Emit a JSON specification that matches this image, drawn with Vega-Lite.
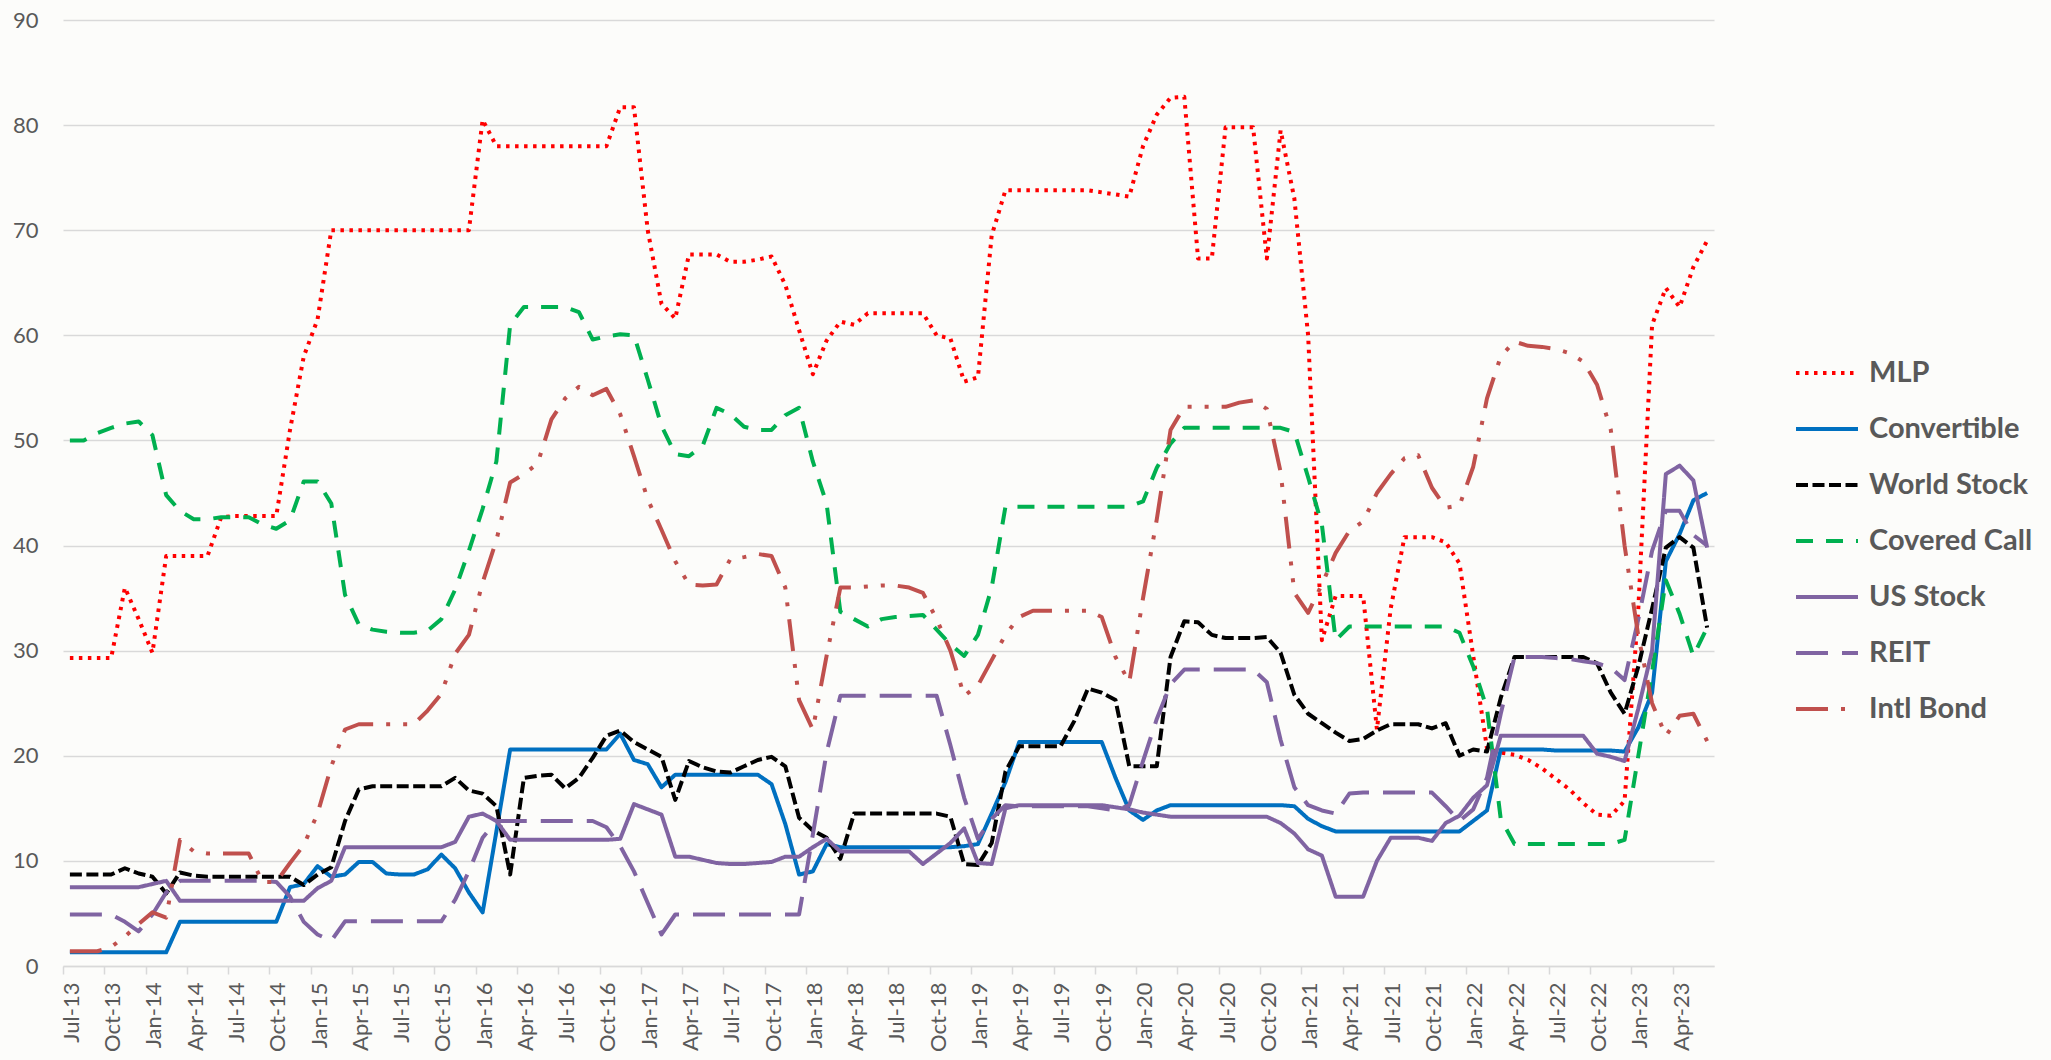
{
"$schema": "https://vega.github.io/schema/vega-lite/v6.json",
"width": 1651, "height": 946,
"autosize": {"type": "none"},
"padding": {"left": 63, "top": 20, "right": 337, "bottom": 94},
"background": "#FCFCFA",
"config": {"view": {"stroke": null}, "font": "Lato"},
"data": {"values": [
{"m":"Jul-13","s":"MLP","v":29.3},{"m":"Aug-13","s":"MLP","v":29.3},{"m":"Sep-13","s":"MLP","v":29.3},{"m":"Oct-13","s":"MLP","v":29.3},{"m":"Nov-13","s":"MLP","v":36.0},{"m":"Dec-13","s":"MLP","v":33.0},
{"m":"Jan-14","s":"MLP","v":29.8},{"m":"Feb-14","s":"MLP","v":39.0},{"m":"Mar-14","s":"MLP","v":39.0},{"m":"Apr-14","s":"MLP","v":39.0},{"m":"May-14","s":"MLP","v":39.0},{"m":"Jun-14","s":"MLP","v":42.7},
{"m":"Jul-14","s":"MLP","v":42.8},{"m":"Aug-14","s":"MLP","v":42.8},{"m":"Sep-14","s":"MLP","v":42.8},{"m":"Oct-14","s":"MLP","v":42.8},{"m":"Nov-14","s":"MLP","v":51.0},{"m":"Dec-14","s":"MLP","v":58.0},
{"m":"Jan-15","s":"MLP","v":61.5},{"m":"Feb-15","s":"MLP","v":70.0},{"m":"Mar-15","s":"MLP","v":70.0},{"m":"Apr-15","s":"MLP","v":70.0},{"m":"May-15","s":"MLP","v":70.0},{"m":"Jun-15","s":"MLP","v":70.0},
{"m":"Jul-15","s":"MLP","v":70.0},{"m":"Aug-15","s":"MLP","v":70.0},{"m":"Sep-15","s":"MLP","v":70.0},{"m":"Oct-15","s":"MLP","v":70.0},{"m":"Nov-15","s":"MLP","v":70.0},{"m":"Dec-15","s":"MLP","v":70.0},
{"m":"Jan-16","s":"MLP","v":80.5},{"m":"Feb-16","s":"MLP","v":78.0},{"m":"Mar-16","s":"MLP","v":78.0},{"m":"Apr-16","s":"MLP","v":78.0},{"m":"May-16","s":"MLP","v":78.0},{"m":"Jun-16","s":"MLP","v":78.0},
{"m":"Jul-16","s":"MLP","v":78.0},{"m":"Aug-16","s":"MLP","v":78.0},{"m":"Sep-16","s":"MLP","v":78.0},{"m":"Oct-16","s":"MLP","v":78.0},{"m":"Nov-16","s":"MLP","v":81.7},{"m":"Dec-16","s":"MLP","v":81.7},
{"m":"Jan-17","s":"MLP","v":70.0},{"m":"Feb-17","s":"MLP","v":63.0},{"m":"Mar-17","s":"MLP","v":61.6},{"m":"Apr-17","s":"MLP","v":67.7},{"m":"May-17","s":"MLP","v":67.7},{"m":"Jun-17","s":"MLP","v":67.7},
{"m":"Jul-17","s":"MLP","v":67.0},{"m":"Aug-17","s":"MLP","v":67.0},{"m":"Sep-17","s":"MLP","v":67.2},{"m":"Oct-17","s":"MLP","v":67.5},{"m":"Nov-17","s":"MLP","v":64.8},{"m":"Dec-17","s":"MLP","v":60.5},
{"m":"Jan-18","s":"MLP","v":56.3},{"m":"Feb-18","s":"MLP","v":59.5},{"m":"Mar-18","s":"MLP","v":61.3},{"m":"Apr-18","s":"MLP","v":61.0},{"m":"May-18","s":"MLP","v":62.1},{"m":"Jun-18","s":"MLP","v":62.1},
{"m":"Jul-18","s":"MLP","v":62.1},{"m":"Aug-18","s":"MLP","v":62.1},{"m":"Sep-18","s":"MLP","v":62.1},{"m":"Oct-18","s":"MLP","v":60.0},{"m":"Nov-18","s":"MLP","v":59.7},{"m":"Dec-18","s":"MLP","v":55.6},
{"m":"Jan-19","s":"MLP","v":56.0},{"m":"Feb-19","s":"MLP","v":69.5},{"m":"Mar-19","s":"MLP","v":73.8},{"m":"Apr-19","s":"MLP","v":73.8},{"m":"May-19","s":"MLP","v":73.8},{"m":"Jun-19","s":"MLP","v":73.8},
{"m":"Jul-19","s":"MLP","v":73.8},{"m":"Aug-19","s":"MLP","v":73.8},{"m":"Sep-19","s":"MLP","v":73.8},{"m":"Oct-19","s":"MLP","v":73.6},{"m":"Nov-19","s":"MLP","v":73.4},{"m":"Dec-19","s":"MLP","v":73.2},
{"m":"Jan-20","s":"MLP","v":78.0},{"m":"Feb-20","s":"MLP","v":81.0},{"m":"Mar-20","s":"MLP","v":82.6},{"m":"Apr-20","s":"MLP","v":82.7},{"m":"May-20","s":"MLP","v":67.3},{"m":"Jun-20","s":"MLP","v":67.3},
{"m":"Jul-20","s":"MLP","v":79.8},{"m":"Aug-20","s":"MLP","v":79.8},{"m":"Sep-20","s":"MLP","v":79.8},{"m":"Oct-20","s":"MLP","v":67.3},{"m":"Nov-20","s":"MLP","v":79.5},{"m":"Dec-20","s":"MLP","v":73.0},
{"m":"Jan-21","s":"MLP","v":60.0},{"m":"Feb-21","s":"MLP","v":31.0},{"m":"Mar-21","s":"MLP","v":35.2},{"m":"Apr-21","s":"MLP","v":35.2},{"m":"May-21","s":"MLP","v":35.2},{"m":"Jun-21","s":"MLP","v":22.5},
{"m":"Jul-21","s":"MLP","v":34.0},{"m":"Aug-21","s":"MLP","v":40.8},{"m":"Sep-21","s":"MLP","v":40.8},{"m":"Oct-21","s":"MLP","v":40.8},{"m":"Nov-21","s":"MLP","v":40.3},{"m":"Dec-21","s":"MLP","v":38.3},
{"m":"Jan-22","s":"MLP","v":29.5},{"m":"Feb-22","s":"MLP","v":20.7},{"m":"Mar-22","s":"MLP","v":20.3},{"m":"Apr-22","s":"MLP","v":20.1},{"m":"May-22","s":"MLP","v":19.6},{"m":"Jun-22","s":"MLP","v":18.8},
{"m":"Jul-22","s":"MLP","v":17.8},{"m":"Aug-22","s":"MLP","v":16.8},{"m":"Sep-22","s":"MLP","v":15.5},{"m":"Oct-22","s":"MLP","v":14.4},{"m":"Nov-22","s":"MLP","v":14.3},{"m":"Dec-22","s":"MLP","v":15.7},
{"m":"Jan-23","s":"MLP","v":34.0},{"m":"Feb-23","s":"MLP","v":61.0},{"m":"Mar-23","s":"MLP","v":64.5},{"m":"Apr-23","s":"MLP","v":62.7},{"m":"May-23","s":"MLP","v":66.5},{"m":"Jun-23","s":"MLP","v":69.0},

{"m":"Jul-13","s":"Convertible","v":1.3},{"m":"Aug-13","s":"Convertible","v":1.3},{"m":"Sep-13","s":"Convertible","v":1.3},{"m":"Oct-13","s":"Convertible","v":1.3},{"m":"Nov-13","s":"Convertible","v":1.3},{"m":"Dec-13","s":"Convertible","v":1.3},
{"m":"Jan-14","s":"Convertible","v":1.3},{"m":"Feb-14","s":"Convertible","v":1.3},{"m":"Mar-14","s":"Convertible","v":4.2},{"m":"Apr-14","s":"Convertible","v":4.2},{"m":"May-14","s":"Convertible","v":4.2},{"m":"Jun-14","s":"Convertible","v":4.2},
{"m":"Jul-14","s":"Convertible","v":4.2},{"m":"Aug-14","s":"Convertible","v":4.2},{"m":"Sep-14","s":"Convertible","v":4.2},{"m":"Oct-14","s":"Convertible","v":4.2},{"m":"Nov-14","s":"Convertible","v":7.5},{"m":"Dec-14","s":"Convertible","v":7.8},
{"m":"Jan-15","s":"Convertible","v":9.5},{"m":"Feb-15","s":"Convertible","v":8.5},{"m":"Mar-15","s":"Convertible","v":8.7},{"m":"Apr-15","s":"Convertible","v":9.9},{"m":"May-15","s":"Convertible","v":9.9},{"m":"Jun-15","s":"Convertible","v":8.8},
{"m":"Jul-15","s":"Convertible","v":8.7},{"m":"Aug-15","s":"Convertible","v":8.7},{"m":"Sep-15","s":"Convertible","v":9.2},{"m":"Oct-15","s":"Convertible","v":10.6},{"m":"Nov-15","s":"Convertible","v":9.3},{"m":"Dec-15","s":"Convertible","v":7.0},
{"m":"Jan-16","s":"Convertible","v":5.1},{"m":"Feb-16","s":"Convertible","v":12.8},{"m":"Mar-16","s":"Convertible","v":20.6},{"m":"Apr-16","s":"Convertible","v":20.6},{"m":"May-16","s":"Convertible","v":20.6},{"m":"Jun-16","s":"Convertible","v":20.6},
{"m":"Jul-16","s":"Convertible","v":20.6},{"m":"Aug-16","s":"Convertible","v":20.6},{"m":"Sep-16","s":"Convertible","v":20.6},{"m":"Oct-16","s":"Convertible","v":20.6},{"m":"Nov-16","s":"Convertible","v":22.1},{"m":"Dec-16","s":"Convertible","v":19.6},
{"m":"Jan-17","s":"Convertible","v":19.2},{"m":"Feb-17","s":"Convertible","v":17.0},{"m":"Mar-17","s":"Convertible","v":18.2},{"m":"Apr-17","s":"Convertible","v":18.2},{"m":"May-17","s":"Convertible","v":18.2},{"m":"Jun-17","s":"Convertible","v":18.2},
{"m":"Jul-17","s":"Convertible","v":18.2},{"m":"Aug-17","s":"Convertible","v":18.2},{"m":"Sep-17","s":"Convertible","v":18.2},{"m":"Oct-17","s":"Convertible","v":17.3},{"m":"Nov-17","s":"Convertible","v":13.5},{"m":"Dec-17","s":"Convertible","v":8.7},
{"m":"Jan-18","s":"Convertible","v":9.0},{"m":"Feb-18","s":"Convertible","v":11.6},{"m":"Mar-18","s":"Convertible","v":11.3},{"m":"Apr-18","s":"Convertible","v":11.3},{"m":"May-18","s":"Convertible","v":11.3},{"m":"Jun-18","s":"Convertible","v":11.3},
{"m":"Jul-18","s":"Convertible","v":11.3},{"m":"Aug-18","s":"Convertible","v":11.3},{"m":"Sep-18","s":"Convertible","v":11.3},{"m":"Oct-18","s":"Convertible","v":11.3},{"m":"Nov-18","s":"Convertible","v":11.3},{"m":"Dec-18","s":"Convertible","v":11.4},
{"m":"Jan-19","s":"Convertible","v":11.6},{"m":"Feb-19","s":"Convertible","v":14.5},{"m":"Mar-19","s":"Convertible","v":17.5},{"m":"Apr-19","s":"Convertible","v":21.3},{"m":"May-19","s":"Convertible","v":21.3},{"m":"Jun-19","s":"Convertible","v":21.3},
{"m":"Jul-19","s":"Convertible","v":21.3},{"m":"Aug-19","s":"Convertible","v":21.3},{"m":"Sep-19","s":"Convertible","v":21.3},{"m":"Oct-19","s":"Convertible","v":21.3},{"m":"Nov-19","s":"Convertible","v":17.9},{"m":"Dec-19","s":"Convertible","v":14.8},
{"m":"Jan-20","s":"Convertible","v":13.9},{"m":"Feb-20","s":"Convertible","v":14.8},{"m":"Mar-20","s":"Convertible","v":15.3},{"m":"Apr-20","s":"Convertible","v":15.3},{"m":"May-20","s":"Convertible","v":15.3},{"m":"Jun-20","s":"Convertible","v":15.3},
{"m":"Jul-20","s":"Convertible","v":15.3},{"m":"Aug-20","s":"Convertible","v":15.3},{"m":"Sep-20","s":"Convertible","v":15.3},{"m":"Oct-20","s":"Convertible","v":15.3},{"m":"Nov-20","s":"Convertible","v":15.3},{"m":"Dec-20","s":"Convertible","v":15.2},
{"m":"Jan-21","s":"Convertible","v":14.0},{"m":"Feb-21","s":"Convertible","v":13.3},{"m":"Mar-21","s":"Convertible","v":12.8},{"m":"Apr-21","s":"Convertible","v":12.8},{"m":"May-21","s":"Convertible","v":12.8},{"m":"Jun-21","s":"Convertible","v":12.8},
{"m":"Jul-21","s":"Convertible","v":12.8},{"m":"Aug-21","s":"Convertible","v":12.8},{"m":"Sep-21","s":"Convertible","v":12.8},{"m":"Oct-21","s":"Convertible","v":12.8},{"m":"Nov-21","s":"Convertible","v":12.8},{"m":"Dec-21","s":"Convertible","v":12.8},
{"m":"Jan-22","s":"Convertible","v":13.8},{"m":"Feb-22","s":"Convertible","v":14.8},{"m":"Mar-22","s":"Convertible","v":20.6},{"m":"Apr-22","s":"Convertible","v":20.6},{"m":"May-22","s":"Convertible","v":20.6},{"m":"Jun-22","s":"Convertible","v":20.6},
{"m":"Jul-22","s":"Convertible","v":20.5},{"m":"Aug-22","s":"Convertible","v":20.5},{"m":"Sep-22","s":"Convertible","v":20.5},{"m":"Oct-22","s":"Convertible","v":20.5},{"m":"Nov-22","s":"Convertible","v":20.5},{"m":"Dec-22","s":"Convertible","v":20.4},
{"m":"Jan-23","s":"Convertible","v":22.7},{"m":"Feb-23","s":"Convertible","v":26.0},{"m":"Mar-23","s":"Convertible","v":38.5},{"m":"Apr-23","s":"Convertible","v":41.1},{"m":"May-23","s":"Convertible","v":44.3},{"m":"Jun-23","s":"Convertible","v":45.0},

{"m":"Jul-13","s":"World Stock","v":8.7},{"m":"Aug-13","s":"World Stock","v":8.7},{"m":"Sep-13","s":"World Stock","v":8.7},{"m":"Oct-13","s":"World Stock","v":8.7},{"m":"Nov-13","s":"World Stock","v":9.3},{"m":"Dec-13","s":"World Stock","v":8.8},
{"m":"Jan-14","s":"World Stock","v":8.5},{"m":"Feb-14","s":"World Stock","v":6.9},{"m":"Mar-14","s":"World Stock","v":8.9},{"m":"Apr-14","s":"World Stock","v":8.6},{"m":"May-14","s":"World Stock","v":8.5},{"m":"Jun-14","s":"World Stock","v":8.5},
{"m":"Jul-14","s":"World Stock","v":8.5},{"m":"Aug-14","s":"World Stock","v":8.5},{"m":"Sep-14","s":"World Stock","v":8.5},{"m":"Oct-14","s":"World Stock","v":8.5},{"m":"Nov-14","s":"World Stock","v":8.5},{"m":"Dec-14","s":"World Stock","v":7.7},
{"m":"Jan-15","s":"World Stock","v":8.7},{"m":"Feb-15","s":"World Stock","v":9.4},{"m":"Mar-15","s":"World Stock","v":13.8},{"m":"Apr-15","s":"World Stock","v":16.8},{"m":"May-15","s":"World Stock","v":17.1},{"m":"Jun-15","s":"World Stock","v":17.1},
{"m":"Jul-15","s":"World Stock","v":17.1},{"m":"Aug-15","s":"World Stock","v":17.1},{"m":"Sep-15","s":"World Stock","v":17.1},{"m":"Oct-15","s":"World Stock","v":17.1},{"m":"Nov-15","s":"World Stock","v":17.9},{"m":"Dec-15","s":"World Stock","v":16.7},
{"m":"Jan-16","s":"World Stock","v":16.4},{"m":"Feb-16","s":"World Stock","v":15.2},{"m":"Mar-16","s":"World Stock","v":8.7},{"m":"Apr-16","s":"World Stock","v":17.9},{"m":"May-16","s":"World Stock","v":18.1},{"m":"Jun-16","s":"World Stock","v":18.2},
{"m":"Jul-16","s":"World Stock","v":16.9},{"m":"Aug-16","s":"World Stock","v":17.9},{"m":"Sep-16","s":"World Stock","v":19.8},{"m":"Oct-16","s":"World Stock","v":21.9},{"m":"Nov-16","s":"World Stock","v":22.4},{"m":"Dec-16","s":"World Stock","v":21.3},
{"m":"Jan-17","s":"World Stock","v":20.6},{"m":"Feb-17","s":"World Stock","v":19.9},{"m":"Mar-17","s":"World Stock","v":15.8},{"m":"Apr-17","s":"World Stock","v":19.5},{"m":"May-17","s":"World Stock","v":18.9},{"m":"Jun-17","s":"World Stock","v":18.5},
{"m":"Jul-17","s":"World Stock","v":18.4},{"m":"Aug-17","s":"World Stock","v":19.0},{"m":"Sep-17","s":"World Stock","v":19.6},{"m":"Oct-17","s":"World Stock","v":19.9},{"m":"Nov-17","s":"World Stock","v":19.0},{"m":"Dec-17","s":"World Stock","v":14.1},
{"m":"Jan-18","s":"World Stock","v":12.9},{"m":"Feb-18","s":"World Stock","v":12.2},{"m":"Mar-18","s":"World Stock","v":10.2},{"m":"Apr-18","s":"World Stock","v":14.5},{"m":"May-18","s":"World Stock","v":14.5},{"m":"Jun-18","s":"World Stock","v":14.5},
{"m":"Jul-18","s":"World Stock","v":14.5},{"m":"Aug-18","s":"World Stock","v":14.5},{"m":"Sep-18","s":"World Stock","v":14.5},{"m":"Oct-18","s":"World Stock","v":14.5},{"m":"Nov-18","s":"World Stock","v":14.2},{"m":"Dec-18","s":"World Stock","v":9.7},
{"m":"Jan-19","s":"World Stock","v":9.6},{"m":"Feb-19","s":"World Stock","v":11.7},{"m":"Mar-19","s":"World Stock","v":18.5},{"m":"Apr-19","s":"World Stock","v":20.9},{"m":"May-19","s":"World Stock","v":20.9},{"m":"Jun-19","s":"World Stock","v":20.9},
{"m":"Jul-19","s":"World Stock","v":20.9},{"m":"Aug-19","s":"World Stock","v":23.3},{"m":"Sep-19","s":"World Stock","v":26.4},{"m":"Oct-19","s":"World Stock","v":26.0},{"m":"Nov-19","s":"World Stock","v":25.3},{"m":"Dec-19","s":"World Stock","v":19.0},
{"m":"Jan-20","s":"World Stock","v":19.0},{"m":"Feb-20","s":"World Stock","v":19.0},{"m":"Mar-20","s":"World Stock","v":29.4},{"m":"Apr-20","s":"World Stock","v":32.8},{"m":"May-20","s":"World Stock","v":32.7},{"m":"Jun-20","s":"World Stock","v":31.5},
{"m":"Jul-20","s":"World Stock","v":31.2},{"m":"Aug-20","s":"World Stock","v":31.2},{"m":"Sep-20","s":"World Stock","v":31.2},{"m":"Oct-20","s":"World Stock","v":31.3},{"m":"Nov-20","s":"World Stock","v":29.8},{"m":"Dec-20","s":"World Stock","v":25.8},
{"m":"Jan-21","s":"World Stock","v":24.0},{"m":"Feb-21","s":"World Stock","v":23.1},{"m":"Mar-21","s":"World Stock","v":22.2},{"m":"Apr-21","s":"World Stock","v":21.4},{"m":"May-21","s":"World Stock","v":21.6},{"m":"Jun-21","s":"World Stock","v":22.4},
{"m":"Jul-21","s":"World Stock","v":23.0},{"m":"Aug-21","s":"World Stock","v":23.0},{"m":"Sep-21","s":"World Stock","v":23.0},{"m":"Oct-21","s":"World Stock","v":22.6},{"m":"Nov-21","s":"World Stock","v":23.1},{"m":"Dec-21","s":"World Stock","v":20.0},
{"m":"Jan-22","s":"World Stock","v":20.6},{"m":"Feb-22","s":"World Stock","v":20.4},{"m":"Mar-22","s":"World Stock","v":25.5},{"m":"Apr-22","s":"World Stock","v":29.4},{"m":"May-22","s":"World Stock","v":29.4},{"m":"Jun-22","s":"World Stock","v":29.4},
{"m":"Jul-22","s":"World Stock","v":29.4},{"m":"Aug-22","s":"World Stock","v":29.4},{"m":"Sep-22","s":"World Stock","v":29.4},{"m":"Oct-22","s":"World Stock","v":28.8},{"m":"Nov-22","s":"World Stock","v":26.0},{"m":"Dec-22","s":"World Stock","v":24.0},
{"m":"Jan-23","s":"World Stock","v":28.5},{"m":"Feb-23","s":"World Stock","v":34.0},{"m":"Mar-23","s":"World Stock","v":39.8},{"m":"Apr-23","s":"World Stock","v":40.8},{"m":"May-23","s":"World Stock","v":39.8},{"m":"Jun-23","s":"World Stock","v":32.2},

{"m":"Jul-13","s":"Covered Call","v":50.0},{"m":"Aug-13","s":"Covered Call","v":50.0},{"m":"Sep-13","s":"Covered Call","v":50.7},{"m":"Oct-13","s":"Covered Call","v":51.2},{"m":"Nov-13","s":"Covered Call","v":51.6},{"m":"Dec-13","s":"Covered Call","v":51.8},
{"m":"Jan-14","s":"Covered Call","v":50.5},{"m":"Feb-14","s":"Covered Call","v":44.8},{"m":"Mar-14","s":"Covered Call","v":43.3},{"m":"Apr-14","s":"Covered Call","v":42.5},{"m":"May-14","s":"Covered Call","v":42.5},{"m":"Jun-14","s":"Covered Call","v":42.7},
{"m":"Jul-14","s":"Covered Call","v":42.7},{"m":"Aug-14","s":"Covered Call","v":42.7},{"m":"Sep-14","s":"Covered Call","v":42.0},{"m":"Oct-14","s":"Covered Call","v":41.6},{"m":"Nov-14","s":"Covered Call","v":42.4},{"m":"Dec-14","s":"Covered Call","v":46.1},
{"m":"Jan-15","s":"Covered Call","v":46.1},{"m":"Feb-15","s":"Covered Call","v":44.0},{"m":"Mar-15","s":"Covered Call","v":35.3},{"m":"Apr-15","s":"Covered Call","v":32.5},{"m":"May-15","s":"Covered Call","v":32.0},{"m":"Jun-15","s":"Covered Call","v":31.8},
{"m":"Jul-15","s":"Covered Call","v":31.7},{"m":"Aug-15","s":"Covered Call","v":31.7},{"m":"Sep-15","s":"Covered Call","v":31.9},{"m":"Oct-15","s":"Covered Call","v":33.0},{"m":"Nov-15","s":"Covered Call","v":35.8},{"m":"Dec-15","s":"Covered Call","v":39.5},
{"m":"Jan-16","s":"Covered Call","v":43.5},{"m":"Feb-16","s":"Covered Call","v":48.0},{"m":"Mar-16","s":"Covered Call","v":61.0},{"m":"Apr-16","s":"Covered Call","v":62.7},{"m":"May-16","s":"Covered Call","v":62.7},{"m":"Jun-16","s":"Covered Call","v":62.7},
{"m":"Jul-16","s":"Covered Call","v":62.7},{"m":"Aug-16","s":"Covered Call","v":62.2},{"m":"Sep-16","s":"Covered Call","v":59.6},{"m":"Oct-16","s":"Covered Call","v":59.9},{"m":"Nov-16","s":"Covered Call","v":60.1},{"m":"Dec-16","s":"Covered Call","v":60.0},
{"m":"Jan-17","s":"Covered Call","v":55.8},{"m":"Feb-17","s":"Covered Call","v":51.4},{"m":"Mar-17","s":"Covered Call","v":48.7},{"m":"Apr-17","s":"Covered Call","v":48.5},{"m":"May-17","s":"Covered Call","v":49.5},{"m":"Jun-17","s":"Covered Call","v":53.1},
{"m":"Jul-17","s":"Covered Call","v":52.5},{"m":"Aug-17","s":"Covered Call","v":51.3},{"m":"Sep-17","s":"Covered Call","v":51.0},{"m":"Oct-17","s":"Covered Call","v":51.0},{"m":"Nov-17","s":"Covered Call","v":52.4},{"m":"Dec-17","s":"Covered Call","v":53.1},
{"m":"Jan-18","s":"Covered Call","v":48.0},{"m":"Feb-18","s":"Covered Call","v":44.0},{"m":"Mar-18","s":"Covered Call","v":33.7},{"m":"Apr-18","s":"Covered Call","v":33.0},{"m":"May-18","s":"Covered Call","v":32.3},{"m":"Jun-18","s":"Covered Call","v":33.0},
{"m":"Jul-18","s":"Covered Call","v":33.2},{"m":"Aug-18","s":"Covered Call","v":33.3},{"m":"Sep-18","s":"Covered Call","v":33.4},{"m":"Oct-18","s":"Covered Call","v":32.0},{"m":"Nov-18","s":"Covered Call","v":30.6},{"m":"Dec-18","s":"Covered Call","v":29.5},
{"m":"Jan-19","s":"Covered Call","v":31.5},{"m":"Feb-19","s":"Covered Call","v":36.0},{"m":"Mar-19","s":"Covered Call","v":43.7},{"m":"Apr-19","s":"Covered Call","v":43.7},{"m":"May-19","s":"Covered Call","v":43.7},{"m":"Jun-19","s":"Covered Call","v":43.7},
{"m":"Jul-19","s":"Covered Call","v":43.7},{"m":"Aug-19","s":"Covered Call","v":43.7},{"m":"Sep-19","s":"Covered Call","v":43.7},{"m":"Oct-19","s":"Covered Call","v":43.7},{"m":"Nov-19","s":"Covered Call","v":43.7},{"m":"Dec-19","s":"Covered Call","v":43.7},
{"m":"Jan-20","s":"Covered Call","v":44.2},{"m":"Feb-20","s":"Covered Call","v":47.4},{"m":"Mar-20","s":"Covered Call","v":49.7},{"m":"Apr-20","s":"Covered Call","v":51.2},{"m":"May-20","s":"Covered Call","v":51.2},{"m":"Jun-20","s":"Covered Call","v":51.2},
{"m":"Jul-20","s":"Covered Call","v":51.2},{"m":"Aug-20","s":"Covered Call","v":51.2},{"m":"Sep-20","s":"Covered Call","v":51.2},{"m":"Oct-20","s":"Covered Call","v":51.2},{"m":"Nov-20","s":"Covered Call","v":51.2},{"m":"Dec-20","s":"Covered Call","v":50.8},
{"m":"Jan-21","s":"Covered Call","v":46.5},{"m":"Feb-21","s":"Covered Call","v":42.0},{"m":"Mar-21","s":"Covered Call","v":31.0},{"m":"Apr-21","s":"Covered Call","v":32.3},{"m":"May-21","s":"Covered Call","v":32.3},{"m":"Jun-21","s":"Covered Call","v":32.3},
{"m":"Jul-21","s":"Covered Call","v":32.3},{"m":"Aug-21","s":"Covered Call","v":32.3},{"m":"Sep-21","s":"Covered Call","v":32.3},{"m":"Oct-21","s":"Covered Call","v":32.3},{"m":"Nov-21","s":"Covered Call","v":32.3},{"m":"Dec-21","s":"Covered Call","v":31.7},
{"m":"Jan-22","s":"Covered Call","v":28.5},{"m":"Feb-22","s":"Covered Call","v":24.5},{"m":"Mar-22","s":"Covered Call","v":14.0},{"m":"Apr-22","s":"Covered Call","v":11.6},{"m":"May-22","s":"Covered Call","v":11.6},{"m":"Jun-22","s":"Covered Call","v":11.6},
{"m":"Jul-22","s":"Covered Call","v":11.6},{"m":"Aug-22","s":"Covered Call","v":11.6},{"m":"Sep-22","s":"Covered Call","v":11.6},{"m":"Oct-22","s":"Covered Call","v":11.6},{"m":"Nov-22","s":"Covered Call","v":11.6},{"m":"Dec-22","s":"Covered Call","v":12.0},
{"m":"Jan-23","s":"Covered Call","v":20.0},{"m":"Feb-23","s":"Covered Call","v":28.0},{"m":"Mar-23","s":"Covered Call","v":36.7},{"m":"Apr-23","s":"Covered Call","v":33.5},{"m":"May-23","s":"Covered Call","v":29.5},{"m":"Jun-23","s":"Covered Call","v":32.2},

{"m":"Jul-13","s":"US Stock","v":7.5},{"m":"Aug-13","s":"US Stock","v":7.5},{"m":"Sep-13","s":"US Stock","v":7.5},{"m":"Oct-13","s":"US Stock","v":7.5},{"m":"Nov-13","s":"US Stock","v":7.5},{"m":"Dec-13","s":"US Stock","v":7.5},
{"m":"Jan-14","s":"US Stock","v":7.8},{"m":"Feb-14","s":"US Stock","v":8.1},{"m":"Mar-14","s":"US Stock","v":6.2},{"m":"Apr-14","s":"US Stock","v":6.2},{"m":"May-14","s":"US Stock","v":6.2},{"m":"Jun-14","s":"US Stock","v":6.2},
{"m":"Jul-14","s":"US Stock","v":6.2},{"m":"Aug-14","s":"US Stock","v":6.2},{"m":"Sep-14","s":"US Stock","v":6.2},{"m":"Oct-14","s":"US Stock","v":6.2},{"m":"Nov-14","s":"US Stock","v":6.2},{"m":"Dec-14","s":"US Stock","v":6.2},
{"m":"Jan-15","s":"US Stock","v":7.4},{"m":"Feb-15","s":"US Stock","v":8.1},{"m":"Mar-15","s":"US Stock","v":11.3},{"m":"Apr-15","s":"US Stock","v":11.3},{"m":"May-15","s":"US Stock","v":11.3},{"m":"Jun-15","s":"US Stock","v":11.3},
{"m":"Jul-15","s":"US Stock","v":11.3},{"m":"Aug-15","s":"US Stock","v":11.3},{"m":"Sep-15","s":"US Stock","v":11.3},{"m":"Oct-15","s":"US Stock","v":11.3},{"m":"Nov-15","s":"US Stock","v":11.8},{"m":"Dec-15","s":"US Stock","v":14.2},
{"m":"Jan-16","s":"US Stock","v":14.5},{"m":"Feb-16","s":"US Stock","v":13.8},{"m":"Mar-16","s":"US Stock","v":12.0},{"m":"Apr-16","s":"US Stock","v":12.0},{"m":"May-16","s":"US Stock","v":12.0},{"m":"Jun-16","s":"US Stock","v":12.0},
{"m":"Jul-16","s":"US Stock","v":12.0},{"m":"Aug-16","s":"US Stock","v":12.0},{"m":"Sep-16","s":"US Stock","v":12.0},{"m":"Oct-16","s":"US Stock","v":12.0},{"m":"Nov-16","s":"US Stock","v":12.1},{"m":"Dec-16","s":"US Stock","v":15.4},
{"m":"Jan-17","s":"US Stock","v":14.9},{"m":"Feb-17","s":"US Stock","v":14.4},{"m":"Mar-17","s":"US Stock","v":10.4},{"m":"Apr-17","s":"US Stock","v":10.4},{"m":"May-17","s":"US Stock","v":10.1},{"m":"Jun-17","s":"US Stock","v":9.8},
{"m":"Jul-17","s":"US Stock","v":9.7},{"m":"Aug-17","s":"US Stock","v":9.7},{"m":"Sep-17","s":"US Stock","v":9.8},{"m":"Oct-17","s":"US Stock","v":9.9},{"m":"Nov-17","s":"US Stock","v":10.4},{"m":"Dec-17","s":"US Stock","v":10.4},
{"m":"Jan-18","s":"US Stock","v":11.3},{"m":"Feb-18","s":"US Stock","v":12.1},{"m":"Mar-18","s":"US Stock","v":10.9},{"m":"Apr-18","s":"US Stock","v":10.9},{"m":"May-18","s":"US Stock","v":10.9},{"m":"Jun-18","s":"US Stock","v":10.9},
{"m":"Jul-18","s":"US Stock","v":10.9},{"m":"Aug-18","s":"US Stock","v":10.9},{"m":"Sep-18","s":"US Stock","v":9.7},{"m":"Oct-18","s":"US Stock","v":10.7},{"m":"Nov-18","s":"US Stock","v":11.7},{"m":"Dec-18","s":"US Stock","v":13.1},
{"m":"Jan-19","s":"US Stock","v":9.8},{"m":"Feb-19","s":"US Stock","v":9.7},{"m":"Mar-19","s":"US Stock","v":15.0},{"m":"Apr-19","s":"US Stock","v":15.3},{"m":"May-19","s":"US Stock","v":15.3},{"m":"Jun-19","s":"US Stock","v":15.3},
{"m":"Jul-19","s":"US Stock","v":15.3},{"m":"Aug-19","s":"US Stock","v":15.3},{"m":"Sep-19","s":"US Stock","v":15.3},{"m":"Oct-19","s":"US Stock","v":15.3},{"m":"Nov-19","s":"US Stock","v":15.1},{"m":"Dec-19","s":"US Stock","v":14.9},
{"m":"Jan-20","s":"US Stock","v":14.6},{"m":"Feb-20","s":"US Stock","v":14.4},{"m":"Mar-20","s":"US Stock","v":14.2},{"m":"Apr-20","s":"US Stock","v":14.2},{"m":"May-20","s":"US Stock","v":14.2},{"m":"Jun-20","s":"US Stock","v":14.2},
{"m":"Jul-20","s":"US Stock","v":14.2},{"m":"Aug-20","s":"US Stock","v":14.2},{"m":"Sep-20","s":"US Stock","v":14.2},{"m":"Oct-20","s":"US Stock","v":14.2},{"m":"Nov-20","s":"US Stock","v":13.6},{"m":"Dec-20","s":"US Stock","v":12.6},
{"m":"Jan-21","s":"US Stock","v":11.1},{"m":"Feb-21","s":"US Stock","v":10.5},{"m":"Mar-21","s":"US Stock","v":6.6},{"m":"Apr-21","s":"US Stock","v":6.6},{"m":"May-21","s":"US Stock","v":6.6},{"m":"Jun-21","s":"US Stock","v":10.0},
{"m":"Jul-21","s":"US Stock","v":12.2},{"m":"Aug-21","s":"US Stock","v":12.2},{"m":"Sep-21","s":"US Stock","v":12.2},{"m":"Oct-21","s":"US Stock","v":11.9},{"m":"Nov-21","s":"US Stock","v":13.6},{"m":"Dec-21","s":"US Stock","v":14.3},
{"m":"Jan-22","s":"US Stock","v":16.0},{"m":"Feb-22","s":"US Stock","v":17.2},{"m":"Mar-22","s":"US Stock","v":21.9},{"m":"Apr-22","s":"US Stock","v":21.9},{"m":"May-22","s":"US Stock","v":21.9},{"m":"Jun-22","s":"US Stock","v":21.9},
{"m":"Jul-22","s":"US Stock","v":21.9},{"m":"Aug-22","s":"US Stock","v":21.9},{"m":"Sep-22","s":"US Stock","v":21.9},{"m":"Oct-22","s":"US Stock","v":20.2},{"m":"Nov-22","s":"US Stock","v":19.9},{"m":"Dec-22","s":"US Stock","v":19.5},
{"m":"Jan-23","s":"US Stock","v":24.5},{"m":"Feb-23","s":"US Stock","v":30.0},{"m":"Mar-23","s":"US Stock","v":46.8},{"m":"Apr-23","s":"US Stock","v":47.6},{"m":"May-23","s":"US Stock","v":46.2},{"m":"Jun-23","s":"US Stock","v":39.8},

{"m":"Jul-13","s":"REIT","v":4.9},{"m":"Aug-13","s":"REIT","v":4.9},{"m":"Sep-13","s":"REIT","v":4.9},{"m":"Oct-13","s":"REIT","v":4.9},{"m":"Nov-13","s":"REIT","v":4.2},{"m":"Dec-13","s":"REIT","v":3.3},
{"m":"Jan-14","s":"REIT","v":4.9},{"m":"Feb-14","s":"REIT","v":7.0},{"m":"Mar-14","s":"REIT","v":8.1},{"m":"Apr-14","s":"REIT","v":8.1},{"m":"May-14","s":"REIT","v":8.1},{"m":"Jun-14","s":"REIT","v":8.1},
{"m":"Jul-14","s":"REIT","v":8.1},{"m":"Aug-14","s":"REIT","v":8.1},{"m":"Sep-14","s":"REIT","v":8.1},{"m":"Oct-14","s":"REIT","v":8.0},{"m":"Nov-14","s":"REIT","v":6.6},{"m":"Dec-14","s":"REIT","v":4.2},
{"m":"Jan-15","s":"REIT","v":3.0},{"m":"Feb-15","s":"REIT","v":2.4},{"m":"Mar-15","s":"REIT","v":4.25},{"m":"Apr-15","s":"REIT","v":4.25},{"m":"May-15","s":"REIT","v":4.25},{"m":"Jun-15","s":"REIT","v":4.25},
{"m":"Jul-15","s":"REIT","v":4.25},{"m":"Aug-15","s":"REIT","v":4.25},{"m":"Sep-15","s":"REIT","v":4.25},{"m":"Oct-15","s":"REIT","v":4.25},{"m":"Nov-15","s":"REIT","v":6.3},{"m":"Dec-15","s":"REIT","v":9.0},
{"m":"Jan-16","s":"REIT","v":12.2},{"m":"Feb-16","s":"REIT","v":13.8},{"m":"Mar-16","s":"REIT","v":13.8},{"m":"Apr-16","s":"REIT","v":13.8},{"m":"May-16","s":"REIT","v":13.8},{"m":"Jun-16","s":"REIT","v":13.8},
{"m":"Jul-16","s":"REIT","v":13.8},{"m":"Aug-16","s":"REIT","v":13.8},{"m":"Sep-16","s":"REIT","v":13.8},{"m":"Oct-16","s":"REIT","v":13.2},{"m":"Nov-16","s":"REIT","v":11.4},{"m":"Dec-16","s":"REIT","v":9.0},
{"m":"Jan-17","s":"REIT","v":6.0},{"m":"Feb-17","s":"REIT","v":3.0},{"m":"Mar-17","s":"REIT","v":4.9},{"m":"Apr-17","s":"REIT","v":4.9},{"m":"May-17","s":"REIT","v":4.9},{"m":"Jun-17","s":"REIT","v":4.9},
{"m":"Jul-17","s":"REIT","v":4.9},{"m":"Aug-17","s":"REIT","v":4.9},{"m":"Sep-17","s":"REIT","v":4.9},{"m":"Oct-17","s":"REIT","v":4.9},{"m":"Nov-17","s":"REIT","v":4.9},{"m":"Dec-17","s":"REIT","v":4.9},
{"m":"Jan-18","s":"REIT","v":12.5},{"m":"Feb-18","s":"REIT","v":20.3},{"m":"Mar-18","s":"REIT","v":25.7},{"m":"Apr-18","s":"REIT","v":25.7},{"m":"May-18","s":"REIT","v":25.7},{"m":"Jun-18","s":"REIT","v":25.7},
{"m":"Jul-18","s":"REIT","v":25.7},{"m":"Aug-18","s":"REIT","v":25.7},{"m":"Sep-18","s":"REIT","v":25.7},{"m":"Oct-18","s":"REIT","v":25.7},{"m":"Nov-18","s":"REIT","v":21.0},{"m":"Dec-18","s":"REIT","v":16.0},
{"m":"Jan-19","s":"REIT","v":12.1},{"m":"Feb-19","s":"REIT","v":14.0},{"m":"Mar-19","s":"REIT","v":15.3},{"m":"Apr-19","s":"REIT","v":15.2},{"m":"May-19","s":"REIT","v":15.2},{"m":"Jun-19","s":"REIT","v":15.2},
{"m":"Jul-19","s":"REIT","v":15.2},{"m":"Aug-19","s":"REIT","v":15.2},{"m":"Sep-19","s":"REIT","v":15.2},{"m":"Oct-19","s":"REIT","v":15.0},{"m":"Nov-19","s":"REIT","v":14.8},{"m":"Dec-19","s":"REIT","v":15.3},
{"m":"Jan-20","s":"REIT","v":19.5},{"m":"Feb-20","s":"REIT","v":23.5},{"m":"Mar-20","s":"REIT","v":26.8},{"m":"Apr-20","s":"REIT","v":28.2},{"m":"May-20","s":"REIT","v":28.2},{"m":"Jun-20","s":"REIT","v":28.2},
{"m":"Jul-20","s":"REIT","v":28.2},{"m":"Aug-20","s":"REIT","v":28.2},{"m":"Sep-20","s":"REIT","v":28.2},{"m":"Oct-20","s":"REIT","v":27.0},{"m":"Nov-20","s":"REIT","v":21.5},{"m":"Dec-20","s":"REIT","v":17.0},
{"m":"Jan-21","s":"REIT","v":15.3},{"m":"Feb-21","s":"REIT","v":14.8},{"m":"Mar-21","s":"REIT","v":14.5},{"m":"Apr-21","s":"REIT","v":16.4},{"m":"May-21","s":"REIT","v":16.5},{"m":"Jun-21","s":"REIT","v":16.5},
{"m":"Jul-21","s":"REIT","v":16.5},{"m":"Aug-21","s":"REIT","v":16.5},{"m":"Sep-21","s":"REIT","v":16.5},{"m":"Oct-21","s":"REIT","v":16.5},{"m":"Nov-21","s":"REIT","v":15.2},{"m":"Dec-21","s":"REIT","v":13.8},
{"m":"Jan-22","s":"REIT","v":14.9},{"m":"Feb-22","s":"REIT","v":17.9},{"m":"Mar-22","s":"REIT","v":24.0},{"m":"Apr-22","s":"REIT","v":29.4},{"m":"May-22","s":"REIT","v":29.4},{"m":"Jun-22","s":"REIT","v":29.4},
{"m":"Jul-22","s":"REIT","v":29.3},{"m":"Aug-22","s":"REIT","v":29.2},{"m":"Sep-22","s":"REIT","v":29.0},{"m":"Oct-22","s":"REIT","v":28.8},{"m":"Nov-22","s":"REIT","v":28.4},{"m":"Dec-22","s":"REIT","v":27.2},
{"m":"Jan-23","s":"REIT","v":33.0},{"m":"Feb-23","s":"REIT","v":39.5},{"m":"Mar-23","s":"REIT","v":43.3},{"m":"Apr-23","s":"REIT","v":43.3},{"m":"May-23","s":"REIT","v":41.0},{"m":"Jun-23","s":"REIT","v":40.0},

{"m":"Jul-13","s":"Intl Bond","v":1.4},{"m":"Aug-13","s":"Intl Bond","v":1.4},{"m":"Sep-13","s":"Intl Bond","v":1.4},{"m":"Oct-13","s":"Intl Bond","v":1.8},{"m":"Nov-13","s":"Intl Bond","v":2.8},{"m":"Dec-13","s":"Intl Bond","v":4.0},
{"m":"Jan-14","s":"Intl Bond","v":5.1},{"m":"Feb-14","s":"Intl Bond","v":4.6},{"m":"Mar-14","s":"Intl Bond","v":12.0},{"m":"Apr-14","s":"Intl Bond","v":10.9},{"m":"May-14","s":"Intl Bond","v":10.7},{"m":"Jun-14","s":"Intl Bond","v":10.7},
{"m":"Jul-14","s":"Intl Bond","v":10.7},{"m":"Aug-14","s":"Intl Bond","v":10.7},{"m":"Sep-14","s":"Intl Bond","v":8.0},{"m":"Oct-14","s":"Intl Bond","v":8.0},{"m":"Nov-14","s":"Intl Bond","v":9.8},{"m":"Dec-14","s":"Intl Bond","v":11.5},
{"m":"Jan-15","s":"Intl Bond","v":14.5},{"m":"Feb-15","s":"Intl Bond","v":19.0},{"m":"Mar-15","s":"Intl Bond","v":22.5},{"m":"Apr-15","s":"Intl Bond","v":23.0},{"m":"May-15","s":"Intl Bond","v":23.0},{"m":"Jun-15","s":"Intl Bond","v":23.0},
{"m":"Jul-15","s":"Intl Bond","v":23.0},{"m":"Aug-15","s":"Intl Bond","v":23.0},{"m":"Sep-15","s":"Intl Bond","v":24.3},{"m":"Oct-15","s":"Intl Bond","v":25.9},{"m":"Nov-15","s":"Intl Bond","v":29.7},{"m":"Dec-15","s":"Intl Bond","v":31.5},
{"m":"Jan-16","s":"Intl Bond","v":36.5},{"m":"Feb-16","s":"Intl Bond","v":40.5},{"m":"Mar-16","s":"Intl Bond","v":46.0},{"m":"Apr-16","s":"Intl Bond","v":46.8},{"m":"May-16","s":"Intl Bond","v":47.8},{"m":"Jun-16","s":"Intl Bond","v":52.0},
{"m":"Jul-16","s":"Intl Bond","v":54.0},{"m":"Aug-16","s":"Intl Bond","v":55.1},{"m":"Sep-16","s":"Intl Bond","v":54.3},{"m":"Oct-16","s":"Intl Bond","v":54.9},{"m":"Nov-16","s":"Intl Bond","v":52.5},{"m":"Dec-16","s":"Intl Bond","v":48.5},
{"m":"Jan-17","s":"Intl Bond","v":44.4},{"m":"Feb-17","s":"Intl Bond","v":41.5},{"m":"Mar-17","s":"Intl Bond","v":38.5},{"m":"Apr-17","s":"Intl Bond","v":36.3},{"m":"May-17","s":"Intl Bond","v":36.2},{"m":"Jun-17","s":"Intl Bond","v":36.3},
{"m":"Jul-17","s":"Intl Bond","v":38.7},{"m":"Aug-17","s":"Intl Bond","v":38.9},{"m":"Sep-17","s":"Intl Bond","v":39.2},{"m":"Oct-17","s":"Intl Bond","v":39.0},{"m":"Nov-17","s":"Intl Bond","v":36.0},{"m":"Dec-17","s":"Intl Bond","v":25.3},
{"m":"Jan-18","s":"Intl Bond","v":22.5},{"m":"Feb-18","s":"Intl Bond","v":29.5},{"m":"Mar-18","s":"Intl Bond","v":36.0},{"m":"Apr-18","s":"Intl Bond","v":36.0},{"m":"May-18","s":"Intl Bond","v":36.1},{"m":"Jun-18","s":"Intl Bond","v":36.2},
{"m":"Jul-18","s":"Intl Bond","v":36.2},{"m":"Aug-18","s":"Intl Bond","v":36.0},{"m":"Sep-18","s":"Intl Bond","v":35.5},{"m":"Oct-18","s":"Intl Bond","v":33.0},{"m":"Nov-18","s":"Intl Bond","v":30.0},{"m":"Dec-18","s":"Intl Bond","v":25.7},
{"m":"Jan-19","s":"Intl Bond","v":26.7},{"m":"Feb-19","s":"Intl Bond","v":29.1},{"m":"Mar-19","s":"Intl Bond","v":31.5},{"m":"Apr-19","s":"Intl Bond","v":33.2},{"m":"May-19","s":"Intl Bond","v":33.8},{"m":"Jun-19","s":"Intl Bond","v":33.8},
{"m":"Jul-19","s":"Intl Bond","v":33.8},{"m":"Aug-19","s":"Intl Bond","v":33.8},{"m":"Sep-19","s":"Intl Bond","v":33.8},{"m":"Oct-19","s":"Intl Bond","v":33.2},{"m":"Nov-19","s":"Intl Bond","v":29.4},{"m":"Dec-19","s":"Intl Bond","v":27.0},
{"m":"Jan-20","s":"Intl Bond","v":35.0},{"m":"Feb-20","s":"Intl Bond","v":42.5},{"m":"Mar-20","s":"Intl Bond","v":51.0},{"m":"Apr-20","s":"Intl Bond","v":53.2},{"m":"May-20","s":"Intl Bond","v":53.2},{"m":"Jun-20","s":"Intl Bond","v":53.2},
{"m":"Jul-20","s":"Intl Bond","v":53.2},{"m":"Aug-20","s":"Intl Bond","v":53.6},{"m":"Sep-20","s":"Intl Bond","v":53.8},{"m":"Oct-20","s":"Intl Bond","v":53.0},{"m":"Nov-20","s":"Intl Bond","v":47.0},{"m":"Dec-20","s":"Intl Bond","v":35.5},
{"m":"Jan-21","s":"Intl Bond","v":33.6},{"m":"Feb-21","s":"Intl Bond","v":36.3},{"m":"Mar-21","s":"Intl Bond","v":39.3},{"m":"Apr-21","s":"Intl Bond","v":41.4},{"m":"May-21","s":"Intl Bond","v":42.3},{"m":"Jun-21","s":"Intl Bond","v":45.0},
{"m":"Jul-21","s":"Intl Bond","v":46.8},{"m":"Aug-21","s":"Intl Bond","v":48.3},{"m":"Sep-21","s":"Intl Bond","v":48.6},{"m":"Oct-21","s":"Intl Bond","v":45.5},{"m":"Nov-21","s":"Intl Bond","v":43.6},{"m":"Dec-21","s":"Intl Bond","v":43.8},
{"m":"Jan-22","s":"Intl Bond","v":47.5},{"m":"Feb-22","s":"Intl Bond","v":54.0},{"m":"Mar-22","s":"Intl Bond","v":58.0},{"m":"Apr-22","s":"Intl Bond","v":59.4},{"m":"May-22","s":"Intl Bond","v":59.0},{"m":"Jun-22","s":"Intl Bond","v":58.9},
{"m":"Jul-22","s":"Intl Bond","v":58.7},{"m":"Aug-22","s":"Intl Bond","v":58.3},{"m":"Sep-22","s":"Intl Bond","v":57.5},{"m":"Oct-22","s":"Intl Bond","v":55.3},{"m":"Nov-22","s":"Intl Bond","v":51.0},{"m":"Dec-22","s":"Intl Bond","v":40.0},
{"m":"Jan-23","s":"Intl Bond","v":31.4},{"m":"Feb-23","s":"Intl Bond","v":25.0},{"m":"Mar-23","s":"Intl Bond","v":21.9},{"m":"Apr-23","s":"Intl Bond","v":23.8},{"m":"May-23","s":"Intl Bond","v":24.0},{"m":"Jun-23","s":"Intl Bond","v":21.4}
]},
"mark": {"type": "line", "strokeWidth": 4, "strokeCap": "butt", "strokeJoin": "round"},
"encoding": {
  "x": {"field": "m", "type": "ordinal", "sort": null, "scale": {"type": "point", "padding": 0.5},
    "axis": {"title": null, "values": ["Jul-13","Oct-13","Jan-14","Apr-14","Jul-14","Oct-14","Jan-15","Apr-15","Jul-15","Oct-15","Jan-16","Apr-16","Jul-16","Oct-16","Jan-17","Apr-17","Jul-17","Oct-17","Jan-18","Apr-18","Jul-18","Oct-18","Jan-19","Apr-19","Jul-19","Oct-19","Jan-20","Apr-20","Jul-20","Oct-20","Jan-21","Apr-21","Jul-21","Oct-21","Jan-22","Apr-22","Jul-22","Oct-22","Jan-23","Apr-23"],
      "labelAngle": -90, "labelFont": "Lato", "labelFontSize": 22, "labelColor": "#595959", "labelPadding": 8, "labelOverlap": false,
      "tickSize": 8, "tickColor": "#D9D9D9", "tickWidth": 1.5, "tickOffset": -6.88, "labelOffset": 8.4,
      "domainColor": "#D9D9D9", "domainWidth": 1.5, "grid": false}},
  "y": {"field": "v", "type": "quantitative", "scale": {"domain": [0, 90], "nice": false},
    "axis": {"title": null, "values": [0,10,20,30,40,50,60,70,80,90], "domain": false, "ticks": false, "tickSize": 0,
      "labelPadding": 25, "labelFont": "Lato", "labelFontSize": 22, "labelColor": "#595959",
      "grid": true, "gridColor": "#D9D9D9", "gridWidth": 1.5}},
  "color": {"field": "s", "type": "nominal",
    "scale": {"domain": ["MLP","Convertible","World Stock","Covered Call","US Stock","REIT","Intl Bond"],
      "range": ["#FF0000","#0070C0","#000000","#00B050","#8064A2","#8064A2","#C0504D"]},
    "legend": {"title": null, "orient": "none", "legendX": 1731, "legendY": 330, "symbolType": "stroke", "symbolSize": 3844,
      "symbolStrokeWidth": 4, "clipHeight": 46, "rowPadding": 10, "labelFont": "Lato", "labelFontSize": 29, "labelFontWeight": "bold",
      "labelColor": "#595959", "labelOffset": 9, "labelLimit": 400}},
  "strokeDash": {"field": "s", "type": "nominal",
    "scale": {"domain": ["MLP","Convertible","World Stock","Covered Call","US Stock","REIT","Intl Bond"],
      "range": [[3.5,5.5],[1,0],[12,4.5],[17,13],[1,0],[32,14],[32,13,4,13,4,13]]}}
}
}
